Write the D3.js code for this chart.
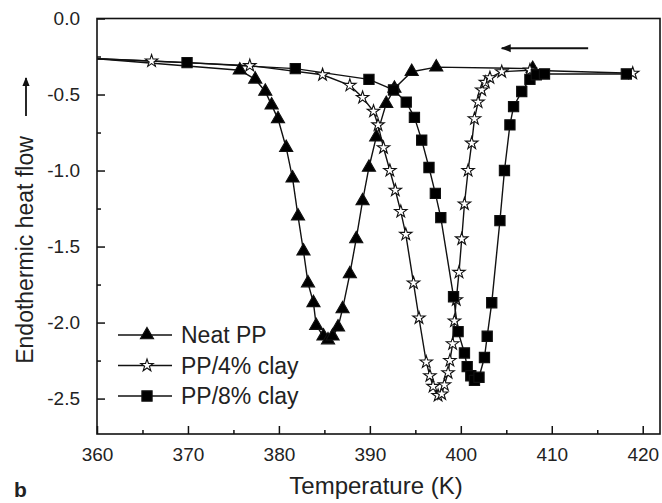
<!DOCTYPE html>
<html>
<head>
<meta charset="utf-8">
<script src="https://cdn.jsdelivr.net/npm/d3@7"></script>
<style>
  html, body { margin: 0; padding: 0; background: #fff; }
  svg { display: block; }
  text { font-family: "Liberation Sans", Arial, sans-serif; fill: #222; }
</style>
</head>
<body>
<svg id="chart" width="662" height="503"></svg>
<script>
// ---------------- data ----------------
const xTicks = [360, 370, 380, 390, 400, 410, 420];
const yTicks = [0.0, -0.5, -1.0, -1.5, -2.0, -2.5];
const seriesNames = ["Neat PP", "PP/4% clay", "PP/8% clay"];

const neatT = [360, 375.7, 377.4, 378.5, 379.2, 379.9, 380.8, 381.5, 382.1, 382.7, 383.2, 383.8, 384.1, 384.9, 385.4, 385.9, 386.5, 387.0, 387.8, 388.5, 389.2, 389.9, 390.7, 391.8, 392.7, 394.6, 397.3, 407.9];
const neatV = [-0.265, -0.34, -0.40, -0.48, -0.57, -0.66, -0.85, -1.05, -1.30, -1.53, -1.74, -1.87, -2.02, -2.09, -2.115, -2.09, -2.03, -1.91, -1.68, -1.45, -1.20, -0.98, -0.78, -0.56, -0.46, -0.35, -0.32, -0.33];

const clay4T = [360, 366.0, 376.8, 384.8, 387.8, 389.2, 390.4, 390.9, 391.5, 392.2, 392.8, 393.4, 393.95, 394.8, 395.4, 396.2, 396.6, 396.95, 397.5, 397.9, 398.2, 398.6, 398.8, 399.1, 399.3, 399.5, 399.8, 400.1, 400.4, 400.8, 401.2, 401.5, 401.9, 402.3, 402.7, 403.2, 404.5, 407.6, 418.9];
const clay4V = [-0.265, -0.28, -0.31, -0.37, -0.44, -0.52, -0.61, -0.70, -0.85, -1.00, -1.13, -1.27, -1.42, -1.74, -1.97, -2.26, -2.35, -2.42, -2.48, -2.47, -2.41, -2.33, -2.25, -2.14, -1.99, -1.85, -1.67, -1.45, -1.22, -1.00, -0.82, -0.66, -0.55, -0.47, -0.42, -0.39, -0.35, -0.34, -0.36];

const clay8T = [360, 369.9, 381.8, 389.9, 392.6, 394.0, 394.9, 395.7, 396.5, 397.2, 397.8, 399.2, 399.7, 400.4, 400.7, 401.1, 401.5, 402.0, 402.6, 402.9, 403.4, 404.3, 404.8, 405.4, 405.8, 406.7, 407.6, 408.3, 409.2, 418.2];
const clay8V = [-0.265, -0.29, -0.33, -0.40, -0.47, -0.55, -0.65, -0.80, -0.98, -1.15, -1.31, -1.83, -2.06, -2.20, -2.29, -2.35, -2.38, -2.36, -2.23, -2.09, -1.87, -1.33, -1.00, -0.70, -0.58, -0.48, -0.40, -0.37, -0.365, -0.365];

const arrowT = [414.0, 404.5];
const arrowV = [-0.195, -0.195];

// ---------------- layout ----------------
const svg = d3.select("#chart");
const x = d3.scaleLinear().domain([360, 421.9]).range([97, 660]);
const y = d3.scaleLinear().domain([-2.733, 0]).range([434, 18.5]);
const fmtY = d => d3.format(".1f")(d).replace("\u2212", "-");

const defs = svg.append("defs");
defs.append("clipPath").attr("id", "plotclip")
  .append("rect").attr("x", x(360)).attr("y", y(0))
  .attr("width", x(421.9) - x(360)).attr("height", y(-2.733) - y(0));
defs.append("marker").attr("id", "ahead")
  .attr("viewBox", "0 0 10 10").attr("refX", 9).attr("refY", 5)
  .attr("markerWidth", 6).attr("markerHeight", 5).attr("markerUnits", "strokeWidth")
  .attr("orient", "auto")
  .append("path").attr("d", "M0,1 L10,5 L0,9 Z").attr("fill", "#111");

// frame
svg.append("rect")
  .attr("x", x(360)).attr("y", y(0))
  .attr("width", x(421.9) - x(360)).attr("height", y(-2.733) - y(0))
  .attr("fill", "none").attr("stroke", "#111").attr("stroke-width", 1.6);

// axes with inward ticks
const xMinor = d3.range(365, 421, 10);
const yMinor = d3.range(-0.25, -2.75, -0.5);

const xAxis = d3.axisBottom(x).tickValues(xTicks).tickSize(-8).tickPadding(14).tickFormat(d3.format("d"));
const gx = svg.append("g").attr("transform", `translate(0,${y(-2.733)})`).call(xAxis);
gx.select(".domain").remove();
gx.selectAll("line").attr("stroke", "#111").attr("stroke-width", 1.5);
gx.selectAll("text").attr("font-size", 19).attr("fill", "#222").attr("font-family", "Liberation Sans, Arial, sans-serif");

const gxm = svg.append("g").attr("transform", `translate(0,${y(-2.733)})`)
  .call(d3.axisBottom(x).tickValues(xMinor).tickSize(-4).tickFormat(""));
gxm.select(".domain").remove();
gxm.selectAll("line").attr("stroke", "#111").attr("stroke-width", 1.5);

const yAxis = d3.axisLeft(y).tickValues(yTicks).tickSize(-8).tickPadding(17).tickFormat(fmtY);
const gy = svg.append("g").attr("transform", `translate(${x(360)},0)`).call(yAxis);
gy.select(".domain").remove();
gy.selectAll("line").attr("stroke", "#111").attr("stroke-width", 1.5);
gy.selectAll("text").attr("font-size", 19).attr("fill", "#222").attr("font-family", "Liberation Sans, Arial, sans-serif");

const gym = svg.append("g").attr("transform", `translate(${x(360)},0)`)
  .call(d3.axisLeft(y).tickValues(yMinor).tickSize(-4).tickFormat(""));
gym.select(".domain").remove();
gym.selectAll("line").attr("stroke", "#111").attr("stroke-width", 1.5);

// ---------------- series ----------------
const series = [
  { name: seriesNames[0], T: neatT, V: neatV, symbol: d3.symbolTriangle, size: 75, fill: "#000" },
  { name: seriesNames[1], T: clay4T, V: clay4V, symbol: d3.symbolStar, size: 48, fill: "#fff" },
  { name: seriesNames[2], T: clay8T, V: clay8V, symbol: d3.symbolSquare, size: 105, fill: "#000" }
];

const plot = svg.append("g").attr("clip-path", "url(#plotclip)");
const line = d3.line().x(d => x(d[0])).y(d => y(d[1]));

series.forEach(s => {
  const pts = s.T.map((t, i) => [t, s.V[i]]);
  plot.append("path").datum(pts).attr("d", line)
    .attr("fill", "none").attr("stroke", "#111").attr("stroke-width", 1.4);
});
series.forEach(s => {
  const pts = s.T.map((t, i) => [t, s.V[i]]);
  plot.selectAll(null).data(pts.slice(1)).enter().append("path")
    .attr("d", d3.symbol().type(s.symbol).size(s.size))
    .attr("transform", d => `translate(${x(d[0])},${y(d[1])})`)
    .attr("fill", s.fill).attr("stroke", "#111").attr("stroke-width", 1.1);
});

// direction arrow (cooling)
svg.append("line")
  .attr("x1", x(arrowT[0])).attr("y1", y(arrowV[0]))
  .attr("x2", x(arrowT[1])).attr("y2", y(arrowV[1]))
  .attr("stroke", "#111").attr("stroke-width", 2)
  .attr("marker-end", "url(#ahead)");

// ---------------- legend ----------------
const legendY = [335, 365.5, 396];
series.forEach((s, i) => {
  const g = svg.append("g").attr("transform", `translate(0,${legendY[i]})`);
  g.append("line").attr("x1", 118).attr("x2", 172).attr("y1", 0).attr("y2", 0)
    .attr("stroke", "#111").attr("stroke-width", 1.4);
  g.append("path").attr("d", d3.symbol().type(s.symbol).size(s.size)())
    .attr("transform", "translate(147,0)")
    .attr("fill", s.fill).attr("stroke", "#111").attr("stroke-width", 1.1);
  g.append("text").attr("x", 181).attr("y", 0).attr("dy", "0.35em")
    .attr("font-size", 23).text(s.name);
});

// ---------------- titles ----------------
svg.append("text").attr("x", 376).attr("y", 494)
  .attr("text-anchor", "middle").attr("font-size", 24).text("Temperature (K)");

svg.append("text")
  .attr("transform", "translate(33,250) rotate(-90)")
  .attr("text-anchor", "middle").attr("font-size", 23).text("Endothermic heat flow");
svg.append("line").attr("x1", 26).attr("x2", 26).attr("y1", 116).attr("y2", 78)
  .attr("stroke", "#111").attr("stroke-width", 1.8).attr("marker-end", "url(#ahead)");

svg.append("text").attr("x", 14).attr("y", 497).attr("font-size", 21)
  .attr("font-weight", "bold").text("b");
</script>
</body>
</html>
